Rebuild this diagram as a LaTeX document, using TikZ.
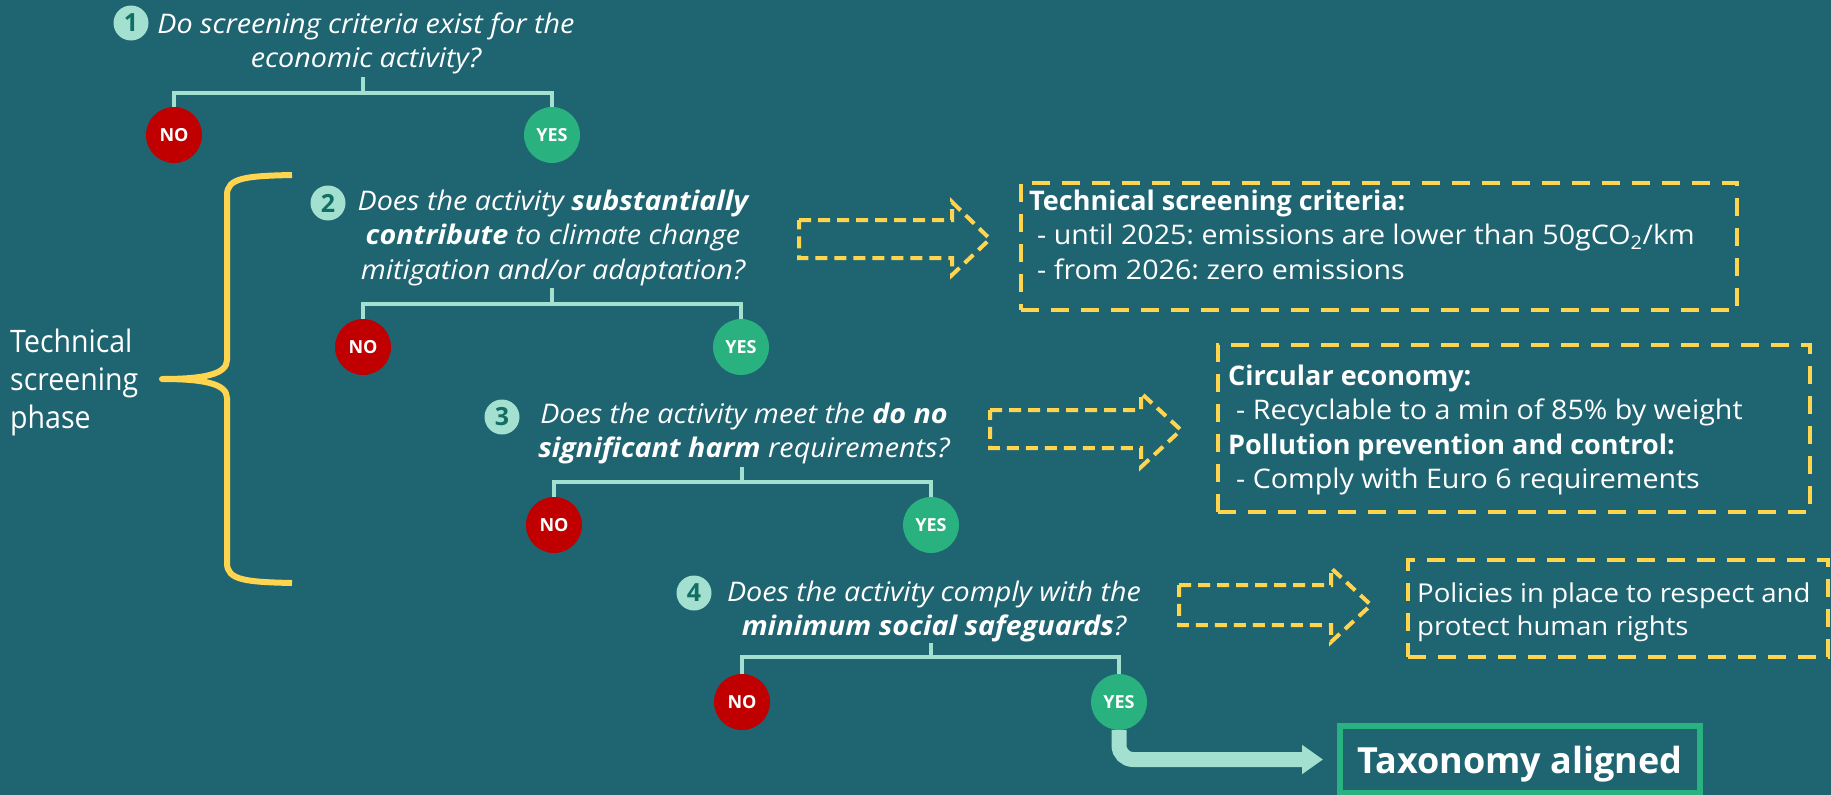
\documentclass[tikz,border=0pt]{standalone}
\usepackage{fontspec}
\setmainfont{Open Sans}[
  UprightFeatures={FakeStretch=1.06},
  BoldFeatures={FakeStretch=1.0},
  ItalicFeatures={FakeStretch=1.063},
  BoldItalicFeatures={FakeStretch=1.063}]
\newfontfamily\labelfont{Open Sans}[FakeStretch=0.92]
\usetikzlibrary{arrows.meta}

\definecolor{bg}{RGB}{31,100,113}
\definecolor{mint}{RGB}{163,224,208}
\definecolor{yesgreen}{RGB}{41,177,128}
\definecolor{nored}{RGB}{192,0,0}
\definecolor{gold}{RGB}{255,213,79}
\definecolor{numteal}{RGB}{18,110,100}

\tikzset{
  qtext/.style={text=white, inner sep=0pt, anchor=base,
    font=\itshape\fontsize{27}{34.5}\selectfont},
  numdot/.style={circle, fill=mint, minimum size=35pt, inner sep=0pt,
    text=numteal, font=\bfseries\fontsize{25}{25}\selectfont},
  answer/.style={circle, minimum size=56pt, inner sep=0pt, text=white,
    font=\bfseries\fontsize{18}{18}\selectfont},
  nodot/.style={answer, fill=nored},
  yesdot/.style={answer, fill=yesgreen},
  branch/.style={draw=mint, line width=4pt},
  hollowarrow/.style={draw=gold, line width=4pt, dash pattern=on 12pt off 7pt, line join=miter},
  critbox/.style={draw=gold, line width=4pt, dash pattern=on 18pt off 12pt, inner sep=0pt},
  crittext/.style={text=white, inner sep=0pt, anchor=base west,
    font=\fontsize{27}{34.5}\selectfont},
  bracestyle/.style={draw=gold, line width=6pt, line join=round},
  flow/.style={draw=mint, line width=15pt, rounded corners=14pt,
    -{Triangle[length=21pt, width=28pt]}},
}

\begin{document}
\frenchspacing
\begin{tikzpicture}[x=1pt, y=-1pt]
  \useasboundingbox (0,0) rectangle (1831,795);
  \fill[bg] (0,0) rectangle (1831,795);

  % ---- Question 1 ----
  \node[qtext] (q1) at (366,33) {\begin{tabular}[t]{@{}c@{}}Do screening criteria exist for the\\economic activity?\end{tabular}};
  \node[numdot] (n1) at (131,23) {1};
  \node[nodot] (no1) at (174,135) {NO};
  \node[yesdot] (yes1) at (552,135) {YES};
  \coordinate (t1) at (363,77);
  \coordinate (j1) at (363,93);
  \draw[branch] (no1.north) |- (j1) -| (yes1.north);
  \draw[branch] (t1) -- (j1);

  % ---- Question 2 ----
  \node[qtext] (q2) at (553,210) {\begin{tabular}[t]{@{}c@{}}Does the activity \textbf{substantially}\\\textbf{contribute} to climate change\\mitigation and/or adaptation?\end{tabular}};
  \node[numdot] (n2) at (328,203) {2};
  \node[nodot] (no2) at (363,347) {NO};
  \node[yesdot] (yes2) at (741,347) {YES};
  \coordinate (t2) at (552,288);
  \coordinate (j2) at (552,304);
  \draw[branch] (no2.north) |- (j2) -| (yes2.north);
  \draw[branch] (t2) -- (j2);

  % ---- Question 3 ----
  \node[qtext] (q3) at (744,423) {\begin{tabular}[t]{@{}c@{}}Does the activity meet the \textbf{do no}\\\textbf{significant harm} requirements?\end{tabular}};
  \node[numdot] (n3) at (502,417) {3};
  \node[nodot] (no3) at (554,525) {NO};
  \node[yesdot] (yes3) at (931,525) {YES};
  \coordinate (t3) at (742,467);
  \coordinate (j3) at (742,482);
  \draw[branch] (no3.north) |- (j3) -| (yes3.north);
  \draw[branch] (t3) -- (j3);

  % ---- Question 4 ----
  \node[qtext] (q4) at (934,601) {\begin{tabular}[t]{@{}c@{}}Does the activity comply with the\\\textbf{minimum social safeguards}?\end{tabular}};
  \node[numdot] (n4) at (694,593) {4};
  \node[nodot] (no4) at (742,702) {NO};
  \node[yesdot] (yes4) at (1119,702) {YES};
  \coordinate (t4) at (931,643);
  \coordinate (j4) at (931,657);
  \draw[branch] (no4.north) |- (j4) -| (yes4.north);
  \draw[branch] (t4) -- (j4);

  % ---- brace and phase label ----
  \node[text=white, inner sep=0pt, anchor=base west, font=\labelfont\fontsize{31}{38}\selectfont] (phase) at (10,352)
    {\begin{tabular}[t]{@{}l@{}}Technical\\screening\\phase\end{tabular}};
  \draw[bracestyle] (292,175) .. controls (245,176) and (227,178) .. (227,195)
    -- (227,360) .. controls (227,374) and (205,379) .. (162,379)
    .. controls (205,379) and (227,384) .. (227,398)
    -- (227,563) .. controls (227,580) and (245,582) .. (292,583);

  % ---- hollow dashed arrows ----
  \draw[hollowarrow] (799,220) -- (952,220) -- (952,202) -- (990,239) -- (952,275) -- (952,258) -- (799,258) -- cycle;
  \draw[hollowarrow] (990,410) -- (1141,410) -- (1141,393) -- (1181,430) -- (1141,467) -- (1141,448) -- (990,448) -- cycle;
  \draw[hollowarrow] (1179,585) -- (1331,585) -- (1331,568) -- (1371,605) -- (1331,642) -- (1331,625) -- (1179,625) -- cycle;

  % ---- criteria boxes ----
  \node[critbox, minimum width=716pt, minimum height=127pt] (box2) at (1379,246.5) {};
  \node[crittext] (c2) at (1029,210) {\begin{tabular}[t]{@{}l@{}}\textbf{Technical screening criteria:}\\\hspace*{8pt}- until 2025: emissions are lower than 50gCO\textsubscript{2}/km\\\hspace*{8pt}- from 2026: zero emissions\end{tabular}};

  \node[critbox, minimum width=592pt, minimum height=167pt] (box3) at (1514,428.5) {};
  \node[crittext] (c3) at (1228,385) {\begin{tabular}[t]{@{}l@{}}\textbf{Circular economy:}\\\hspace*{8pt}- Recyclable to a min of 85\% by weight\\\textbf{Pollution prevention and control:}\\\hspace*{8pt}- Comply with Euro 6 requirements\end{tabular}};

  \node[critbox, minimum width=420pt, minimum height=97pt] (box4) at (1618,608.5) {};
  \node[crittext, font=\fontsize{26}{33}\selectfont] (c4) at (1417,602) {\begin{tabular}[t]{@{}l@{}}Policies in place to respect and\\protect human rights\end{tabular}};

  % ---- final outcome ----
  \node[draw=yesgreen, line width=6pt, minimum width=360pt, minimum height=67pt, inner sep=0pt,
        text=white, text height=36pt, text depth=9pt, font=\bfseries\fontsize{36}{36}\selectfont]
        (tax) at (1520,759.5) {Taxonomy aligned};
  \draw[flow, shorten >=14pt] (yes4.south) |- (tax.west);
\end{tikzpicture}
\end{document}
